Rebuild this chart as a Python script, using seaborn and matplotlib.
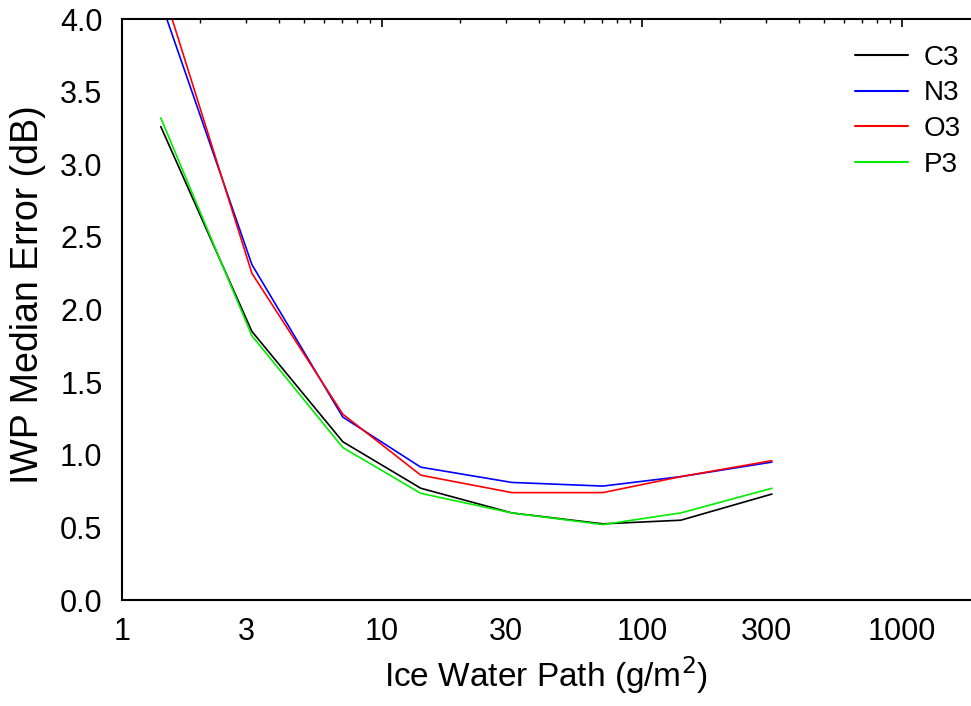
import numpy as np
import pandas as pd
import matplotlib
matplotlib.use("Agg")
import matplotlib.pyplot as plt
import seaborn as sns
from matplotlib.ticker import FixedLocator, FixedFormatter, MultipleLocator

iwp = [1.41, 3.16, 7.07, 14.1, 31.6, 70.7, 141, 316]
c3 = [3.26, 1.85, 1.09, 0.77, 0.60, 0.525, 0.55, 0.73]
n3 = [4.12, 2.31, 1.26, 0.915, 0.81, 0.785, 0.85, 0.95]
o3 = [4.25, 2.25, 1.28, 0.86, 0.74, 0.74, 0.85, 0.96]
p3 = [3.32, 1.82, 1.05, 0.735, 0.60, 0.52, 0.60, 0.77]
series = ["C3", "N3", "O3", "P3"]
colors = {"C3": "#000000", "N3": "#0000ff", "O3": "#ff0000", "P3": "#00ee00"}
decade_ticks = [1, 10, 100, 1000]
decade_labels = ["1", "10", "100", "1000"]
mid_ticks = [3, 30, 300]
y_ticks = [0.0, 0.5, 1.0, 1.5, 2.0, 2.5, 3.0, 3.5, 4.0]

df = pd.DataFrame({
    "iwp": iwp * 4,
    "err": c3 + n3 + o3 + p3,
    "model": sum([[s] * len(iwp) for s in series], []),
})

sns.set_style("white")
plt.rcParams["font.family"] = ["Liberation Sans", "DejaVu Sans"]
plt.rcParams["text.color"] = "black"

fig = plt.figure(figsize=(9.71, 7.06), dpi=100)
ax = fig.add_axes([0.1256, 0.150, 0.8744, 0.823])
sns.lineplot(data=df, x="iwp", y="err", hue="model", palette=colors,
             hue_order=series, linewidth=1.2, ax=ax, legend=True)
ax.set_xscale("log")
ax.set_xlim(1, 10 ** ((971 - 122) / 260))
ax.set_ylim(0, 4)

# minor ticks: 2..9 per decade, labels only at 3, 30, 300
minor = [m * 10 ** k for k in range(0, 4) for m in range(2, 10)]
minor_labels = [str(int(v)) if int(v) in mid_ticks else "" for v in minor]
ax.xaxis.set_major_locator(FixedLocator(decade_ticks))
ax.xaxis.set_major_formatter(FixedFormatter(decade_labels))
ax.xaxis.set_minor_locator(FixedLocator(minor))
ax.xaxis.set_minor_formatter(FixedFormatter(minor_labels))

ax.set_yticks(y_ticks)
ax.set_yticklabels([f"{v:.1f}" for v in y_ticks])
ax.yaxis.set_minor_locator(MultipleLocator(0.25))

ax.tick_params(axis="both", which="both", direction="in", top=True, right=False,
               labelsize=22, colors="black")
ax.tick_params(axis="x", which="both", pad=12)
ax.tick_params(axis="y", which="both", pad=14)
ax.tick_params(axis="x", which="major", length=6, width=1.2)
ax.tick_params(axis="x", which="minor", length=3, width=1.0)
ax.tick_params(axis="y", which="major", length=4, width=1.0)
ax.tick_params(axis="y", which="minor", length=3, width=1.0)
for name, sp in ax.spines.items():
    sp.set_color("black")
    sp.set_linewidth(1.5)
ax.spines["right"].set_visible(False)

ax.set_xlabel("Ice Water Path (g/m$^2$)", fontsize=24, labelpad=5, color="black")
ax.set_ylabel("IWP Median Error (dB)", fontsize=27, color="black")
ax.yaxis.set_label_coords(-0.0895, 0.525)
leg = ax.legend(loc="upper right", bbox_to_anchor=(1.017, 0.999), frameon=False,
                fontsize=20, handlelength=1.9, handletextpad=0.55, labelspacing=0.35)
for line in leg.get_lines():
    line.set_linewidth(1.5)
fig.savefig("out.png", dpi=100)
